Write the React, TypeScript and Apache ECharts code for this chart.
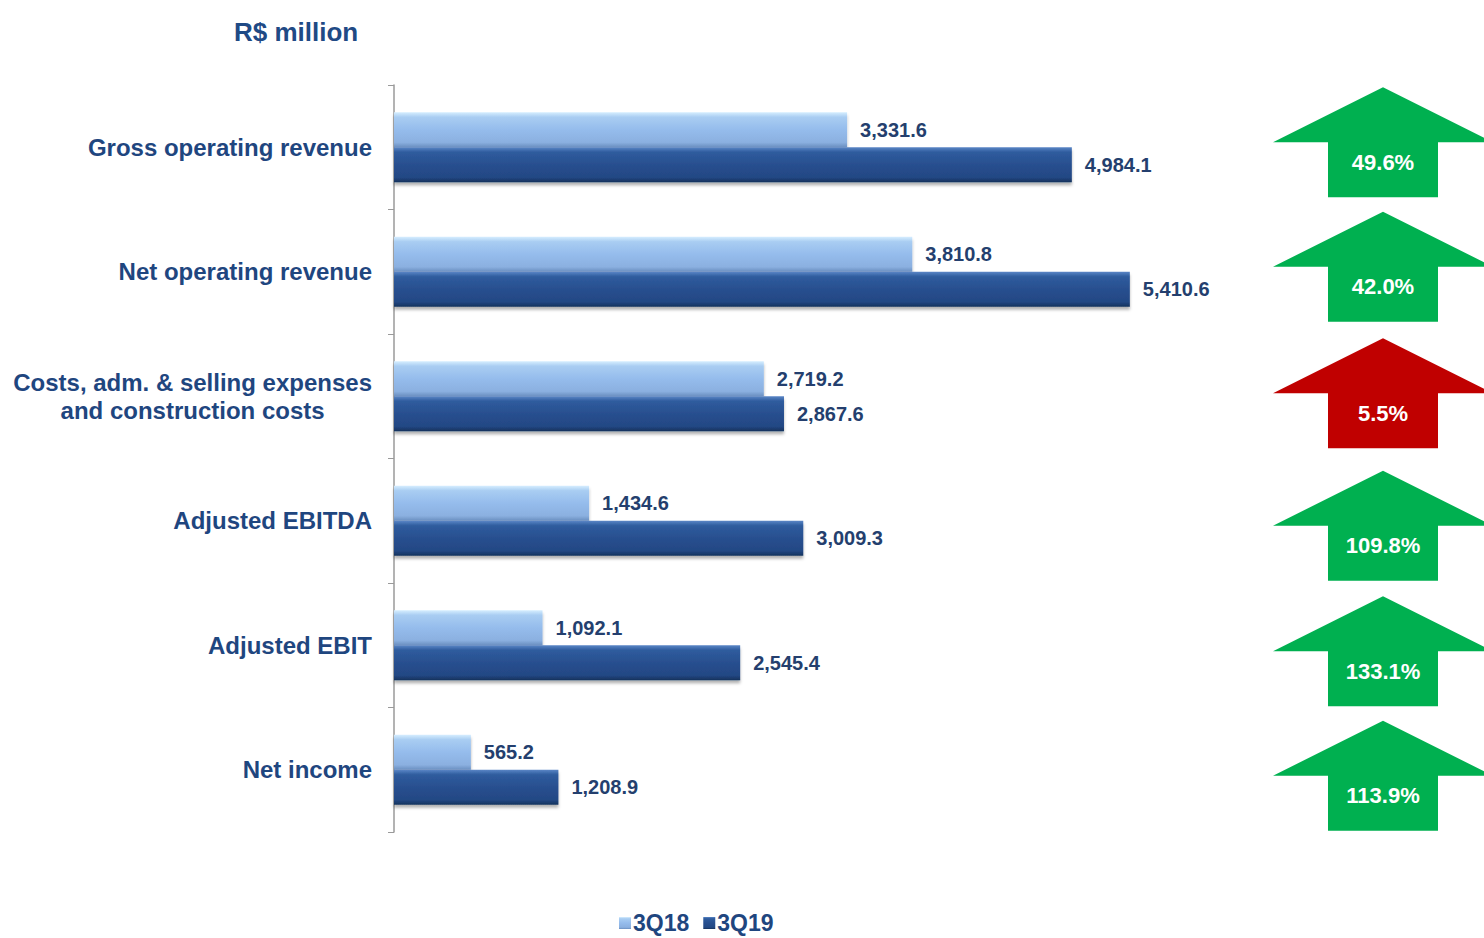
import React, { useEffect, useRef } from "react";
import * as echarts from "echarts";

const categories = [
  "Gross operating revenue",
  "Net operating revenue",
  "Costs, adm. & selling expenses\nand construction costs",
  "Adjusted EBITDA",
  "Adjusted EBIT",
  "Net income",
];
const values3Q18 = [3331.6, 3810.8, 2719.2, 1434.6, 1092.1, 565.2];
const values3Q19 = [4984.1, 5410.6, 2867.6, 3009.3, 2545.4, 1208.9];
const changePct = [49.6, 42.0, 5.5, 109.8, 133.1, 113.9];
const adverse = [false, false, true, false, false, false];
const seriesNames = ["3Q18", "3Q19"];
const titleText = "R$ million";

const FONT = "'Liberation Sans', Arial, sans-serif";
const LABEL_COLOR = "#1f467f";

const lightGrad = new echarts.graphic.LinearGradient(0, 0, 0, 1, [
  { offset: 0, color: "#d6eeff" },
  { offset: 0.14, color: "#a9cdf2" },
  { offset: 0.5, color: "#95bcec" },
  { offset: 0.86, color: "#8bb0e0" },
  { offset: 1, color: "#6a8fc0" },
]);
const darkGrad = new echarts.graphic.LinearGradient(0, 0, 0, 1, [
  { offset: 0, color: "#5a86c6" },
  { offset: 0.14, color: "#2f5c9e" },
  { offset: 0.5, color: "#284f8f" },
  { offset: 0.86, color: "#234884" },
  { offset: 1, color: "#15325c" },
]);

const fmt = (v: number) =>
  v.toLocaleString("en-US", { minimumFractionDigits: 1, maximumFractionDigits: 1 });

export default function App() {
  const ref = useRef<HTMLDivElement>(null);
  useEffect(() => {
    if (!ref.current) return;
    const chart = echarts.init(ref.current, null, { renderer: "svg" });
    const arrowDy = [-5, -5, -3, 5, 6, 6];
    const barLabel = {
      show: true,
      position: "right" as const,
      distance: 13,
      color: "#243f6e",
      fontFamily: FONT,
      fontWeight: "bold" as const,
      fontSize: 20,
      formatter: (p: any) => fmt(p.value),
    };
    const barShadow = {
      shadowBlur: 3,
      shadowOffsetY: 3,
      shadowColor: "rgba(0,0,0,0.3)",
    };
    chart.setOption({
      animation: false,
      backgroundColor: "#ffffff",
      title: {
        text: titleText,
        left: 229,
        top: 14,
        textStyle: { color: "#1f4a85", fontFamily: FONT, fontWeight: "bold", fontSize: 26 },
      },
      legend: {
        data: seriesNames,
        left: 614,
        top: 906,
        icon: "rect",
        itemWidth: 12,
        itemHeight: 12,
        itemGap: 14,
        textStyle: { color: LABEL_COLOR, fontFamily: FONT, fontWeight: "bold", fontSize: 23, lineHeight: 24, padding: [0, 0, 0, -3] },
      },
      grid: { left: 394, top: 85, width: 816, bottom: 106, containLabel: false },
      xAxis: {
        type: "value",
        min: 0,
        max: 6000,
        show: false,
      },
      yAxis: {
        type: "category",
        data: categories,
        inverse: true,
        axisLine: { show: true, lineStyle: { color: "#9a9a9a", width: 1.5 } },
        axisTick: { show: true, length: 6, lineStyle: { color: "#9a9a9a" } },
        axisLabel: {
          margin: 22,
          formatter: (v: string) =>
            v
              .split("\n")
              .map((line) => `{c|${line}}`)
              .join("\n"),
          rich: {
            c: {
              color: LABEL_COLOR,
              fontFamily: FONT,
              fontWeight: "bold",
              fontSize: 24,
              lineHeight: 28,
              align: "center",
            },
          },
        },
        splitLine: { show: false },
      },
      series: [
        {
          name: seriesNames[0],
          type: "bar",
          data: values3Q18,
          barWidth: 35,
          barGap: "0%",
          itemStyle: { color: lightGrad, ...barShadow },
          label: barLabel,
        },
        {
          name: seriesNames[1],
          type: "bar",
          data: values3Q19,
          barWidth: 35,
          barGap: "0%",
          itemStyle: { color: darkGrad, ...barShadow },
          label: barLabel,
        },
        {
          type: "custom",
          name: "change",
          clip: false,
          silent: true,
          encode: { x: 0, y: 1 },
          data: changePct.map((v, i) => [0, i, v]),
          renderItem: (params: any, api: any) => {
            const idx = api.value(1);
            const pct = api.value(2);
            const y = api.coord([0, idx])[1] + arrowDy[params.dataIndex];
            const cx = 1383;
            const color = adverse[params.dataIndex] ? "#c00000" : "#00b050";
            return {
              type: "group",
              children: [
                {
                  type: "polygon",
                  shape: {
                    points: [
                      [cx, y - 55],
                      [cx + 110, y],
                      [cx + 55, y],
                      [cx + 55, y + 55],
                      [cx - 55, y + 55],
                      [cx - 55, y],
                      [cx - 110, y],
                    ],
                  },
                  style: { fill: color },
                },
                {
                  type: "text",
                  style: {
                    text: `${pct.toFixed(1)}%`,
                    x: cx,
                    y: y + 20,
                    align: "center",
                    verticalAlign: "middle",
                    fill: "#ffffff",
                    font: `bold 22px ${FONT}`,
                  },
                },
              ],
            };
          },
        },
      ],
    });
    return () => chart.dispose();
  }, []);
  return (
    <div
      ref={ref}
      style={{ position: "fixed", left: 0, top: 0, width: 1484, height: 938 }}
    />
  );
}
